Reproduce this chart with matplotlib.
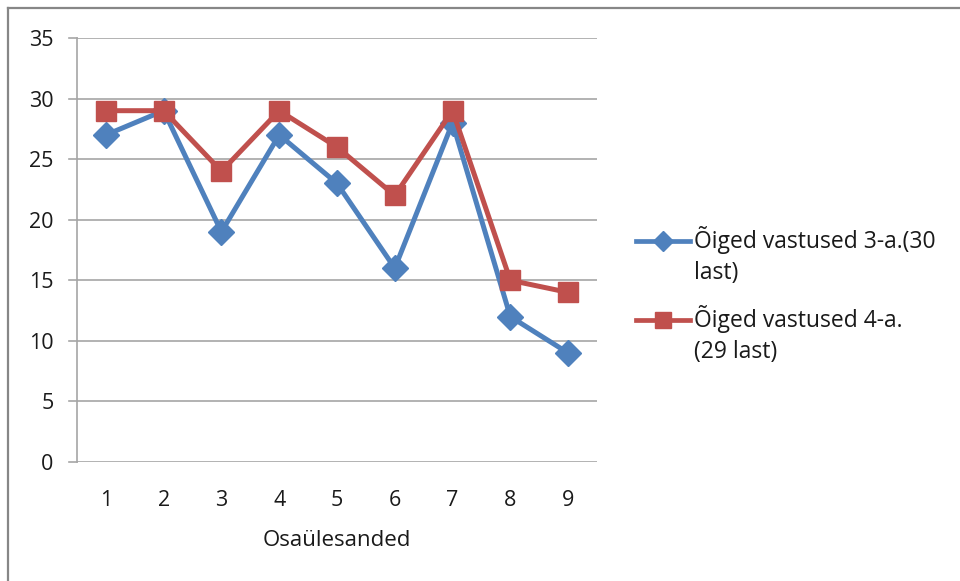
import matplotlib
matplotlib.use("Agg")
import matplotlib.pyplot as plt
from matplotlib.lines import Line2D

categories = ["1", "2", "3", "4", "5", "6", "7", "8", "9"]
series_3a = [27, 29, 19, 27, 23, 16, 28, 12, 9]
series_4a = [29, 29, 24, 29, 26, 22, 29, 15, 14]
label_3a = "Õiged vastused 3-a.(30\nlast)"
label_4a = "Õiged vastused 4-a.\n(29 last)"
x_title = "Osaülesanded"
y_ticks = [0, 5, 10, 15, 20, 25, 30, 35]

BLUE = "#4F81BD"
RED = "#C0504D"
GRID = "#A6A6A6"
TEXT = "#1a1a1a"
FONT = ["Open Sans", "DejaVu Sans"]

W, H = 960, 581
fig = plt.figure(figsize=(W / 100, H / 100), dpi=100)
plt.rcParams["font.family"] = FONT


def fx(px):
    return px / W


def fy(py):
    return 1 - py / H


# outer chart frame (top and left edges)
fig.add_artist(Line2D([fx(8), fx(8)], [0, fy(8)], transform=fig.transFigure,
                      color="#878787", lw=1.6))
fig.add_artist(Line2D([fx(8), 1], [fy(8), fy(8)], transform=fig.transFigure,
                      color="#878787", lw=1.6))

left, right, top, bottom = 77, 597, 38, 462
ax = fig.add_axes([fx(left), fy(bottom), (right - left) / W, (bottom - top) / H])

x = list(range(len(categories)))
ax.plot(x, series_3a, color=BLUE, lw=3.6, marker="D", ms=13.5,
        markeredgecolor=BLUE, zorder=3, solid_joinstyle="round")
ax.plot(x, series_4a, color=RED, lw=3.6, marker="s", ms=15,
        markeredgecolor=RED, zorder=4, solid_joinstyle="round")

ax.set_xlim(-0.5, len(categories) - 0.5)
ax.set_ylim(0, 35)
ax.set_yticks(y_ticks)
ax.set_xticks(x)
ax.set_xticklabels(categories)
for s in ["top", "right", "bottom"]:
    ax.spines[s].set_visible(False)
ax.spines["left"].set_color(GRID)
ax.spines["left"].set_linewidth(1.2)
ax.yaxis.grid(True, color=GRID, lw=1.2)
ax.set_axisbelow(True)
# short tick marks left of the value axis
for yv in y_ticks:
    ax.plot([-0.5 - 8 / 57.8, -0.5], [yv, yv], color=GRID, lw=1.2, clip_on=False, zorder=1)

ax.tick_params(axis="y", length=0, pad=17, labelsize=15.5, labelcolor=TEXT)
ax.tick_params(axis="x", length=0, pad=20, labelsize=15.5, labelcolor=TEXT)

ax.set_xlabel(x_title, fontsize=16, color=TEXT, labelpad=14)

# legend: key aligned with the first line of each wrapped label
entries = [
    (label_3a, BLUE, "D", 10, 241),
    (label_4a, RED, "s", 11, 320),
]
for text, color, marker, ms, ypx in entries:
    fig.add_artist(Line2D([fx(636), fx(690)], [fy(ypx), fy(ypx)],
                          transform=fig.transFigure, color=color, lw=3.4))
    fig.add_artist(Line2D([fx(663)], [fy(ypx)], transform=fig.transFigure,
                          color=color, marker=marker, ms=ms, markeredgecolor=color))
    fig.text(fx(694), fy(ypx - 15), text, fontsize=16.5, color=TEXT,
             ha="left", va="top", linespacing=1.4)

fig.savefig("out.png", dpi=100, facecolor="white")
